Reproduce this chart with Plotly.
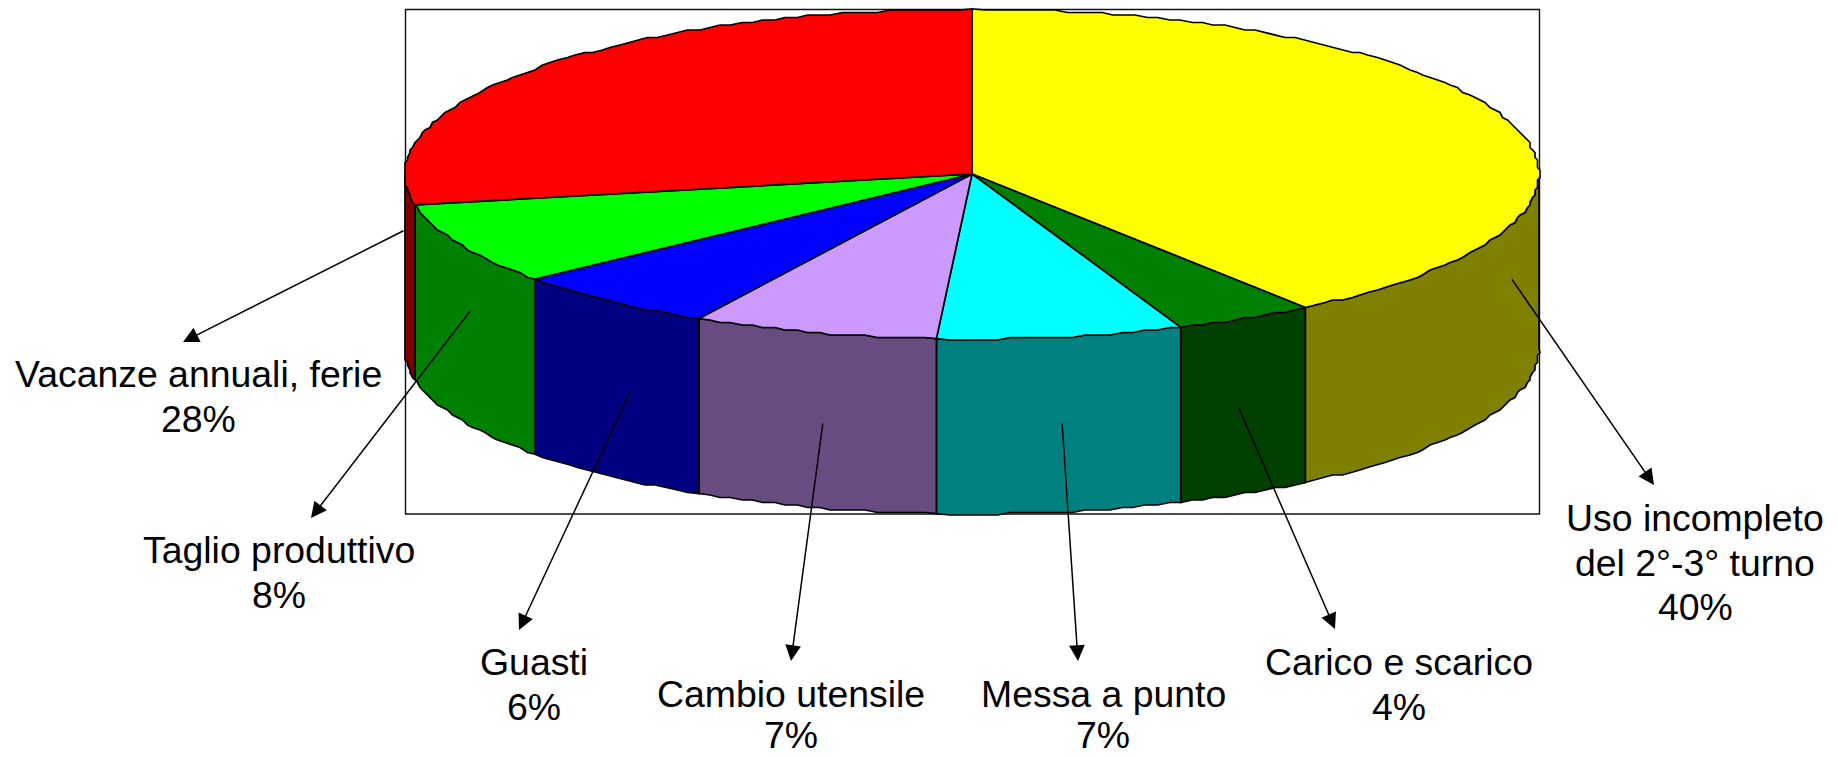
import numpy as np
import plotly.graph_objects as go

# Machine-time breakdown
categories = ["Uso incompleto<br>del 2°-3° turno", "Carico e scarico", "Messa a punto",
              "Cambio utensile", "Guasti", "Taglio produttivo", "Vacanze annuali, ferie"]
values = [40, 4, 7, 7, 6, 8, 28]

top_colors = ["#FFFF00", "#008000", "#00FFFF", "#CC99FF", "#0000FF", "#00FF00", "#FF0000"]
side_colors = ["#808000", "#004000", "#008080", "#664C80", "#000080", "#008000", "#800000"]

# Pie geometry on a pixel-sized data space
W, H = 1838, 757
CX, CY, RX, RY, DEPTH = 972, 174, 567, 165, 175
FRAME = (405.5, 9.5, 1539.5, 514)
SNAP = 2.5  # vertex grid that gives the rim its faceted, metafile look

# Leader lines: (tail x, tail y, head x, head y), same order as categories
leaders = [(1511, 278, 1654, 485), (1238, 406, 1335, 629), (1062, 422, 1078, 661),
           (823, 422, 791, 661), (631, 390, 519, 630), (471, 310, 311, 518),
           (405, 230, 183, 342)]
# Label anchors: centre x and first baseline y, same order as categories
label_pos = [(1695, 532), (1399, 676), (1103, 708), (791, 708), (534, 676), (279, 564), (198, 388)]
FONT_SIZE = 37.4
LINE_STEP = 44.5
DESCENT = 8.0


def rim(a0, a1, dy=0.0):
    """Rim points between two clockwise angles measured from 12 o'clock."""
    n = max(2, int(abs(a1 - a0) / 1.2) + 1)
    t = np.radians(np.linspace(a0, a1, n))
    x = CX + RX * np.sin(t)
    y = CY - RY * np.cos(t)
    xs = np.round(x / SNAP) * SNAP
    ys = np.round(y / SNAP) * SNAP
    xs[0], xs[-1], ys[0], ys[-1] = x[0], x[-1], y[0], y[-1]
    return xs, ys + dy


def polygon(x, y, fill):
    return go.Scatter(x=list(x), y=list(y), mode="lines", fill="toself", fillcolor=fill,
                      line=dict(color="black", width=1.7), hoverinfo="skip", showlegend=False)


fig = go.Figure()
edges = 3.6 * np.cumsum([0] + values)

# Side walls of the front half
for i in range(len(values)):
    a0, a1 = max(edges[i], 90.0), min(edges[i + 1], 270.0)
    if a1 <= a0:
        continue
    xt, yt = rim(a0, a1)
    xb, yb = rim(a0, a1, DEPTH)
    fig.add_trace(polygon(np.r_[xt, xb[::-1], xt[0]], np.r_[yt, yb[::-1], yt[0]], side_colors[i]))

# Top wedges
for i in range(len(values)):
    xt, yt = rim(edges[i], edges[i + 1])
    fig.add_trace(polygon(np.r_[CX, xt, CX], np.r_[CY, yt, CY], top_colors[i]))

annotations = []
for (tx, ty, hx, hy) in leaders:
    annotations.append(dict(x=hx, y=hy, ax=tx, ay=ty, xref="x", yref="y", axref="x", ayref="y",
                            text="", showarrow=True, arrowhead=2, arrowsize=2.1, arrowwidth=1.5,
                            arrowcolor="black", standoff=0, startstandoff=0))

for name, val, (cx, base) in zip(categories, values, label_pos):
    for k, line in enumerate(name.split("<br>") + [f"{val}%"]):
        # Keep the descender box of the lowest lines on the page
        baseline = min(base + k * LINE_STEP, H - DESCENT - 0.5)
        annotations.append(dict(x=cx, y=baseline + DESCENT, xref="x", yref="y", text=line,
                                showarrow=False, xanchor="center", yanchor="bottom",
                                borderpad=0, font=dict(family="Liberation Sans", size=FONT_SIZE,
                                                       color="black")))

fig.update_layout(
    width=W, height=H, autosize=False,
    margin=dict(l=0, r=0, t=0, b=0),
    paper_bgcolor="white", plot_bgcolor="white",
    xaxis=dict(range=[0, W], visible=False, fixedrange=True),
    yaxis=dict(range=[H, 0], visible=False, fixedrange=True),
    shapes=[dict(type="rect", xref="x", yref="y", x0=FRAME[0], y0=FRAME[1], x1=FRAME[2], y1=FRAME[3],
                 line=dict(color="#111111", width=1.4), layer="below")],
    annotations=annotations,
)

fig.write_html("out.html")
